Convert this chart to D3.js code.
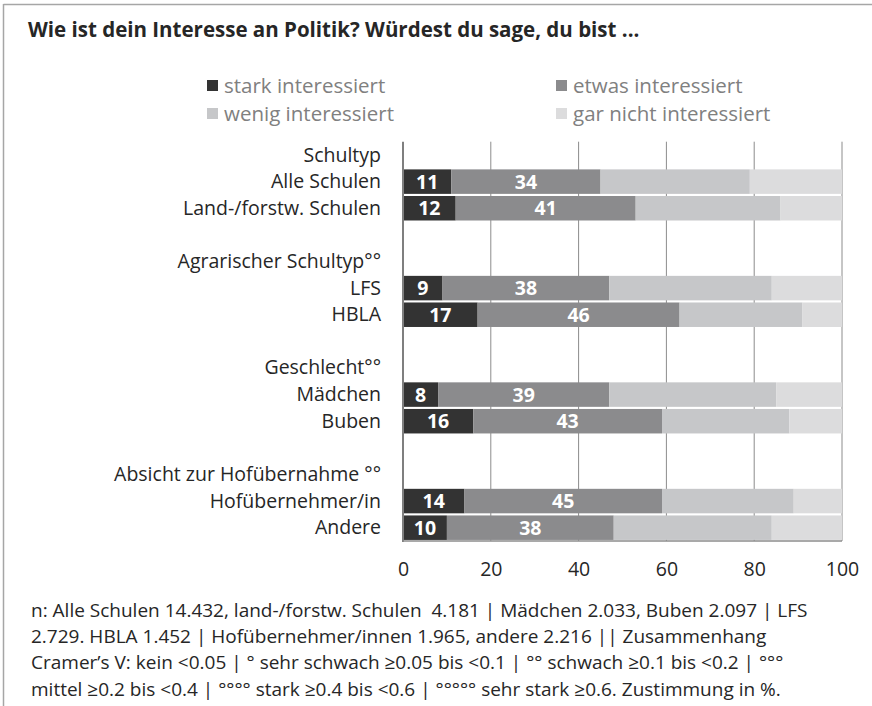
<!DOCTYPE html>
<html>
<head>
<meta charset="utf-8">
<script src="https://cdn.jsdelivr.net/npm/d3@7"></script>
<style>
  html, body { margin: 0; padding: 0; background: #fff; }
  svg { display: block; }
  text { font-family: "Open Sans", Lato, sans-serif; }
</style>
</head>
<body>
<svg id="chart" width="872" height="706"></svg>
<script>
// ---------- data ----------
const title = "Wie ist dein Interesse an Politik? Würdest du sage, du bist ...";
const seriesNames = ["stark interessiert", "etwas interessiert", "wenig interessiert", "gar nicht interessiert"];
const rowLabels = [
  "Schultyp", "Alle Schulen", "Land-/forstw. Schulen", "",
  "Agrarischer Schultyp°°", "LFS", "HBLA", "",
  "Geschlecht°°", "Mädchen", "Buben", "",
  "Absicht zur Hofübernahme °°", "Hofübernehmer/in", "Andere"
];
const stark    = [null, 11, 12, null, null,  9, 17, null, null,  8, 16, null, null, 14, 10];
const etwas    = [null, 34, 41, null, null, 38, 46, null, null, 39, 43, null, null, 45, 38];
const wenig    = [null, 34, 33, null, null, 37, 28, null, null, 38, 29, null, null, 30, 36];
const garNicht = [null, 21, 14, null, null, 16,  9, null, null, 15, 12, null, null, 11, 16];
const xTicks = [0, 20, 40, 60, 80, 100];
const footnote = [
  "n: Alle Schulen 14.432, land-/forstw. Schulen  4.181 | Mädchen 2.033, Buben 2.097 | LFS",
  "2.729. HBLA 1.452 | Hofübernehmer/innen 1.965, andere 2.216 || Zusammenhang",
  "Cramer’s V: kein <0.05 | ° sehr schwach ≥0.05 bis <0.1 | °° schwach ≥0.1 bis <0.2 | °°°",
  "mittel ≥0.2 bis <0.4 | °°°° stark ≥0.4 bis <0.6 | °°°°° sehr stark ≥0.6. Zustimmung in %."
];

const colors = ["#333333", "#8b8b8d", "#c6c7c9", "#dcdcdd"];
const series = [stark, etwas, wenig, garNicht];

// ---------- layout ----------
const svg = d3.select("#chart");
const plotTop = 141.7, plotBottom = 541, plotLeft = 403, plotRight = 842;

const x = d3.scaleLinear().domain([0, 100]).range([plotLeft, plotRight]);
const y = d3.scaleBand()
  .domain(d3.range(rowLabels.length))
  .range([plotTop, plotBottom])
  .paddingInner(0.08)
  .paddingOuter(0.04);

// frame
svg.append("line").attr("x1", 3.5).attr("x2", 872).attr("y1", 4.5).attr("y2", 4.5)
  .attr("stroke", "#a6a6a6").attr("stroke-width", 1.5);
svg.append("line").attr("x1", 3.5).attr("x2", 3.5).attr("y1", 4).attr("y2", 706)
  .attr("stroke", "#a6a6a6").attr("stroke-width", 1.5);

// title
svg.append("text")
  .attr("x", 28).attr("y", 37)
  .attr("font-size", 20.5).attr("font-weight", "bold").attr("fill", "#262626")
  .text(title);

// legend
const legendPos = [
  {x: 207, y: 80}, {x: 556, y: 80},
  {x: 207, y: 108}, {x: 556, y: 108}
];
const lg = svg.append("g");
seriesNames.forEach((name, i) => {
  const p = legendPos[i];
  lg.append("rect").attr("x", p.x).attr("y", p.y).attr("width", 11).attr("height", 11).attr("fill", colors[i]);
  lg.append("text").attr("x", p.x + 17).attr("y", p.y + 12.5)
    .attr("font-size", 20.5).attr("fill", "#808080").text(name);
});

// gridlines
svg.append("g").selectAll("line").data(xTicks.filter(d => d > 0)).join("line")
  .attr("x1", d => x(d)).attr("x2", d => x(d))
  .attr("y1", plotTop).attr("y2", plotBottom)
  .attr("stroke", "#8c8c8c").attr("stroke-width", 1);

// bars
const stacked = rowLabels.map((lab, i) => {
  let acc = 0;
  return series.map((s, k) => {
    const v = s[i];
    if (v == null) return null;
    const seg = {row: i, k, x0: acc, x1: acc + v, v};
    acc += v;
    return seg;
  }).filter(d => d);
}).flat();

svg.append("g").selectAll("rect").data(stacked).join("rect")
  .attr("x", d => x(d.x0))
  .attr("width", d => x(d.x1) - x(d.x0))
  .attr("y", d => y(d.row))
  .attr("height", y.bandwidth())
  .attr("fill", d => colors[d.k]);

// bar value labels (first two series)
svg.append("g").selectAll("text").data(stacked.filter(d => d.k < 2)).join("text")
  .attr("x", d => (x(d.x0) + x(d.x1)) / 2)
  .attr("y", d => y(d.row) + y.bandwidth() / 2 + 7)
  .attr("text-anchor", "middle")
  .attr("font-size", 19.5).attr("font-weight", "bold").attr("fill", "#ffffff")
  .text(d => d.v);

// axes lines
svg.append("line").attr("x1", plotLeft).attr("x2", plotLeft).attr("y1", plotTop).attr("y2", plotBottom + 1)
  .attr("stroke", "#7f7f7f").attr("stroke-width", 2);
svg.append("line").attr("x1", plotLeft).attr("x2", plotRight).attr("y1", plotBottom).attr("y2", plotBottom)
  .attr("stroke", "#8c8c8c").attr("stroke-width", 1.5);

// x tick labels via d3 axis
const xAxis = d3.axisBottom(x).tickValues(xTicks).tickSize(0).tickPadding(0).tickFormat(d3.format("d"));
const gx = svg.append("g").attr("transform", `translate(0, ${plotBottom + 35})`).call(xAxis);
gx.select(".domain").remove();
gx.selectAll("text").attr("font-size", 19.5).attr("fill", "#262626")
  .attr("font-family", "'Open Sans', sans-serif").attr("dy", 0).attr("y", 0);

// row labels
svg.append("g").selectAll("text").data(rowLabels.map((l, i) => ({l, i})).filter(d => d.l)).join("text")
  .attr("x", 381)
  .attr("y", d => y(d.i) + y.bandwidth() / 2 + 6.5)
  .attr("text-anchor", "end")
  .attr("font-size", 19.5).attr("fill", "#262626")
  .text(d => d.l);

// footnote
svg.append("g").selectAll("text").data(footnote).join("text")
  .attr("x", 31)
  .attr("y", (d, i) => 617 + i * 26.2)
  .attr("font-size", 19).attr("fill", "#262626")
  .style("white-space", "pre")
  .text(d => d);
</script>
</body>
</html>
